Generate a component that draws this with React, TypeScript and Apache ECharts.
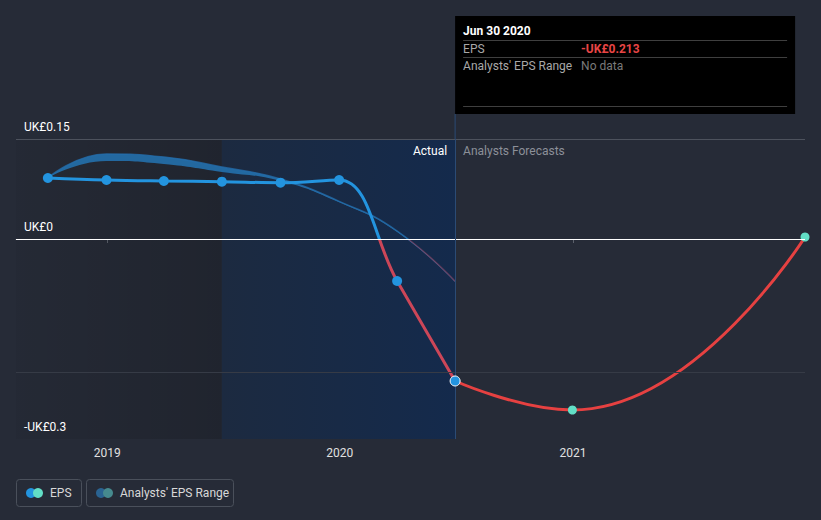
import React, { useEffect, useRef } from "react";
import * as echarts from "echarts";

const actualDates = ["2018-09-30", "2018-12-31", "2019-03-31", "2019-06-30", "2019-09-30", "2019-12-31", "2020-03-31", "2020-06-30"];
const actualEps = [0.0915, 0.0885, 0.087, 0.086, 0.0845, 0.0885, -0.063, -0.213];
const forecastDates = ["2020-06-30", "2020-12-31", "2021-12-31"];
const forecastEps = [-0.213, -0.2565, 0.003];
const rangeDates = ["2018-09-30", "2018-12-31", "2019-03-31", "2019-06-30", "2019-09-30", "2019-12-31", "2020-03-31", "2020-06-30"];
const rangeLow = [0.0915, 0.117, 0.1125, 0.1005, 0.087, 0.055, 0.0105, -0.0645];
const rangeHigh = [0.0915, 0.1275, 0.123, 0.108, 0.09, 0.0565, 0.012, -0.0635];
const yTickValues = [0.15, 0, -0.3];
const yTickLabels = ["UK£0.15", "UK£0", "-UK£0.3"];
const xMinDate = "2018-08-11";
const xMaxDate = "2021-12-31";
const shadeStartDate = "2019-06-30";
const lastActualDate = "2020-06-30";

const t = (s: string) => new Date(s + "T00:00:00").getTime();
const FONT = "Roboto, 'Noto Sans', sans-serif";

export default function App() {
  const ref = useRef<HTMLDivElement>(null);
  useEffect(() => {
    document.body.style.margin = "0";
    const chart = echarts.init(ref.current!, undefined, { renderer: "svg" });
    const yMin = -0.3, yMax = 0.15;
    const option: any = {
      animation: false,
      backgroundColor: "#262b37",
      grid: { left: 16, right: 16, top: 139, bottom: 81 },
      xAxis: {
        type: "time",
        min: t(xMinDate),
        max: t(xMaxDate),
        minInterval: 365 * 24 * 3600 * 1000,
        maxInterval: 366 * 24 * 3600 * 1000,
        axisLine: { lineStyle: { color: "#5c616c", width: 1 } },
        axisTick: { show: true, length: 4, lineStyle: { color: "#5c616c" } },
        axisLabel: { color: "#e0e0e0", fontSize: 12, fontFamily: FONT, margin: 8, formatter: "{yyyy}" },
        splitLine: { show: false },
      },
      yAxis: {
        type: "value",
        min: yMin,
        max: yMax,
        axisLabel: { show: false },
        axisLine: { show: false },
        axisTick: { show: false },
        splitLine: { show: false },
      },
      series: [
        {
          type: "line", z: 1, silent: true, symbol: "none",
          lineStyle: { opacity: 0, width: 0 },
          data: actualDates.map((d, i) => [t(d), actualEps[i]]),
          markArea: {
            silent: true,
            data: [
              [
                { xAxis: t(xMinDate), itemStyle: { color: new echarts.graphic.LinearGradient(0, 0, 1, 0, [{ offset: 0, color: "rgba(0,0,0,0.04)" }, { offset: 1, color: "rgba(0,0,0,0.16)" }]) } },
                { xAxis: t(shadeStartDate) },
              ],
              [
                { xAxis: t(shadeStartDate), itemStyle: { color: new echarts.graphic.LinearGradient(0, 0, 1, 0, [{ offset: 0, color: "#1c2a40" }, { offset: 1, color: "#142a4c" }]) } },
                { xAxis: t(lastActualDate) },
              ],
            ],
          },
          markLine: {
            silent: true, symbol: "none", label: { show: false },
            data: [
              { yAxis: 0.15, lineStyle: { color: "#4d525d", width: 1, type: "solid" } },
              { yAxis: -0.2, lineStyle: { color: "#363b46", width: 1, type: "solid" } },
              { yAxis: 0, lineStyle: { color: "#ffffff", width: 1, type: "solid" } },
              { xAxis: t(lastActualDate), lineStyle: { color: "#2b4b75", width: 1, type: "solid" } },
            ],
          },
        },
        {
          type: "line", stack: "range", stackStrategy: "all", z: 2, smooth: 0.5, symbol: "none", silent: true,
          lineStyle: { opacity: 0, width: 0 },
          data: rangeDates.map((d, i) => [t(d), rangeLow[i]]),
        },
        {
          type: "line", stack: "range", stackStrategy: "all", z: 2, smooth: 0.5, symbol: "none", silent: true,
          lineStyle: { width: 0, opacity: 0 },
          areaStyle: { color: "rgba(36,112,172,0.9)", opacity: 1 },
          data: rangeDates.map((d, i) => [t(d), rangeHigh[i] - rangeLow[i]]),
        },
        {
          type: "line", z: 3, smooth: 0.5, symbol: "none", silent: true,
          lineStyle: { width: 1.5, color: "rgba(35,108,170,0.8)" },
          data: rangeDates.map((d, i) => [t(d), rangeHigh[i]]),
        },
        {
          type: "line", z: 4, smooth: 0.4, symbol: "none", silent: true,
          lineStyle: { width: 3, color: "#2394df" },
          data: actualDates.map((d, i) => [t(d), actualEps[i]]),
        },
        {
          type: "line", z: 4, smooth: 0.5, silent: true,
          symbol: "circle", symbolSize: 9,
          lineStyle: { width: 3, color: "#e64141" },
          itemStyle: { color: "#62dfc6", borderWidth: 0, opacity: 1 },
          data: forecastDates.map((d, i) => ({ value: [t(d), forecastEps[i]], symbol: i === 0 ? "none" : "circle" })),
        },
        {
          type: "scatter", z: 5, silent: true,
          symbolSize: 10,
          itemStyle: { color: "#2394df", opacity: 1 },
          data: actualDates.map((d, i) =>
            i === actualDates.length - 1
              ? { value: [t(d), actualEps[i]], itemStyle: { borderColor: "#ffffff", borderWidth: 1, opacity: 1 } }
              : { value: [t(d), actualEps[i]] }
          ),
        },
      ],
    };
    chart.setOption(option);

    const px = (d: string, v: number) => chart.convertToPixel({ gridIndex: 0 }, [t(d), v]) as number[];
    const [divX] = px(lastActualDate, 0);
    const gridTop = px(lastActualDate, yMax)[1];
    const gridBottom = px(lastActualDate, yMin)[1];
    const zeroY = px(lastActualDate, 0)[1];
    const zOff = (zeroY - gridTop) / (gridBottom - gridTop);
    const split = (above: string, below: string) =>
      new echarts.graphic.LinearGradient(0, gridTop, 0, gridBottom, [
        { offset: 0, color: above }, { offset: zOff, color: above },
        { offset: zOff, color: below }, { offset: 1, color: below },
      ], true);

    const txt = (text: string, x: number, y: number, fill: string, extra: any = {}) => ({
      type: "text", x, y, silent: true, z: 20,
      style: { text, fill, fontSize: 12, fontFamily: FONT, align: "left", verticalAlign: "middle", ...extra },
    });
    const boxX = divX, boxY = 16, boxW = 340, boxH = 98;
    const graphics: any[] = [
      { type: "line", silent: true, z: 20, shape: { x1: divX, y1: boxY + boxH, x2: divX, y2: gridTop }, style: { stroke: "#2b4b75", lineWidth: 1 } },
      { type: "rect", silent: true, z: 19, shape: { x: boxX, y: boxY, width: boxW, height: boxH }, style: { fill: "#000000" } },
      txt("Jun 30 2020", boxX + 8, 31, "#ffffff", { fontWeight: "bold" }),
      { type: "line", silent: true, z: 20, shape: { x1: boxX + 8, y1: 40.5, x2: boxX + boxW - 8, y2: 40.5 }, style: { stroke: "#3f3f3f", lineWidth: 1 } },
      txt("EPS", boxX + 8, 48.5, "#a8a8a8"),
      txt("-UK£0.213", boxX + 126, 48.5, "#e84545", { fontWeight: "bold" }),
      { type: "line", silent: true, z: 20, shape: { x1: boxX + 8, y1: 57.5, x2: boxX + boxW - 8, y2: 57.5 }, style: { stroke: "#3f3f3f", lineWidth: 1 } },
      txt("Analysts' EPS Range", boxX + 8, 65.5, "#a8a8a8"),
      txt("No data", boxX + 126, 65.5, "#7a7a7a"),
      { type: "line", silent: true, z: 20, shape: { x1: boxX + 8, y1: 106.5, x2: boxX + boxW - 8, y2: 106.5 }, style: { stroke: "#3f3f3f", lineWidth: 1 } },
      txt("Actual", divX - 8, gridTop + 12, "#ffffff", { align: "right" }),
      txt("Analysts Forecasts", divX + 8, gridTop + 12, "#8c9099"),
    ];
    yTickValues.forEach((v, i) => {
      const y = px(lastActualDate, v)[1];
      graphics.push(txt(yTickLabels[i], 24, y - 12, "#ffffff"));
    });
    graphics.push(
      { type: "rect", silent: true, z: 20, shape: { x: 16.5, y: 479.5, width: 65, height: 27, r: 3 }, style: { fill: "none", stroke: "#4a505b", lineWidth: 1 } },
      { type: "circle", silent: true, z: 20, shape: { cx: 31, cy: 493, r: 5 }, style: { fill: "#2394df" } },
      { type: "circle", silent: true, z: 20, shape: { cx: 38, cy: 493, r: 5 }, style: { fill: "#62dfc6" } },
      txt("EPS", 50, 493, "#d8d8d8"),
      { type: "rect", silent: true, z: 20, shape: { x: 86.5, y: 479.5, width: 147, height: 27, r: 3 }, style: { fill: "none", stroke: "#4a505b", lineWidth: 1 } },
      { type: "circle", silent: true, z: 20, shape: { cx: 101, cy: 493, r: 5 }, style: { fill: "#2a6392" } },
      { type: "circle", silent: true, z: 20, shape: { cx: 108, cy: 493, r: 5 }, style: { fill: "#468a8e" } },
      txt("Analysts' EPS Range", 120, 493, "#d8d8d8"),
    );
    option.series[3].lineStyle.color = split("rgba(35,108,170,0.8)", "rgba(190,70,95,0.45)");
    option.series[4].lineStyle.color = split("#2394df", "#cc4658");
    option.graphic = graphics;
    chart.setOption(option, true);
    return () => chart.dispose();
  }, []);
  return <div ref={ref} style={{ width: 821, height: 520 }} />;
}
